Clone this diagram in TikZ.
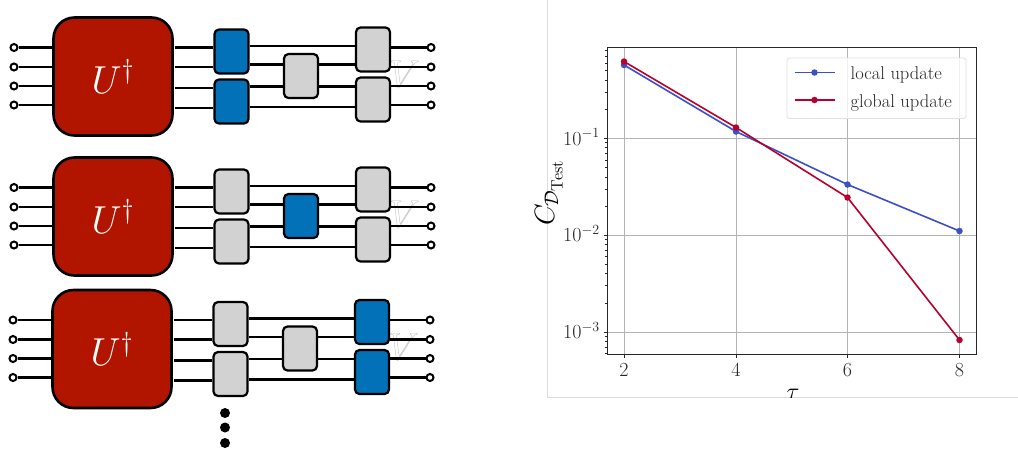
\RequirePackage{fix-cm}
\documentclass[tikz,border=0pt]{standalone}
\usepackage{amsmath}
\DeclareMathSizes{28}{28}{19.6}{16.5}
\definecolor{ured}{HTML}{B11500}
\definecolor{qblue}{HTML}{0271B8}
\definecolor{qgray}{HTML}{D2D2D2}
\definecolor{lblue}{HTML}{3B50C8}
\definecolor{lred}{HTML}{B8002E}
\definecolor{gridc}{HTML}{B4B4B4}
\definecolor{framec}{HTML}{DCDCDC}
\definecolor{axc}{HTML}{262626}
\newcommand{\outlinetext}[1]{\special{pdf:code q 1 Tr 0.35 w 0.72 G}#1\special{pdf:code Q}}
\tikzset{
 wire/.style={line width=2.2pt,black},
 port/.style={circle,draw=black,fill=white,line width=2pt,minimum size=7pt,inner sep=0pt},
 ubox/.style={draw=black,fill=ured,line width=2.6pt,rounded corners=21pt,minimum width=119pt,minimum height=118pt,inner sep=0pt,font=\fontsize{39}{39}\selectfont,text=white},
 gate/.style={draw=black,line width=2.2pt,rounded corners=4.5pt,minimum width=34pt,minimum height=44pt,inner sep=0pt},
 bgate/.style={gate,fill=qblue},
 ggate/.style={gate,fill=qgray},
 ghost/.style={font=\fontsize{39}{39}\selectfont,inner sep=0pt},
 tick/.style={line width=.8pt,axc},
 grid line/.style={line width=1pt,gridc},
 ticklab/.style={font=\fontsize{20}{20}\selectfont,text=axc,inner sep=0pt},
 series/.style={line width=1.6pt},
 dot/.style={circle,inner sep=0pt,minimum size=6.5pt},
 legtxt/.style={font=\fontsize{18.5}{18.5}\selectfont,text=axc,inner sep=0pt,anchor=base west},
 bullet/.style={circle,fill=black,inner sep=0pt,minimum size=10pt},
}
\newcommand{\circuitrow}[5]{%
\begin{scope}[shift={(#1,#2)}]
 \node[ghost] at (404.5,74) {\outlinetext{$V$}};
 \node[ubox] (u) at (113,76.5) {$U^{\dagger}$};
 \node[#3] (a1) at (231.5,51.5) {};
 \node[#3] (a2) at (231.5,101.5) {};
 \node[#4] (m) at (301,76) {};
 \node[#5] (b1) at (373,49.5) {};
 \node[#5] (b2) at (373,99.5) {};
 \foreach \i/\y in {1/47.5,2/67,3/86,4/105}{
   \node[port] (p\i) at (14,\y) {};
   \node[port] (q\i) at (431,\y) {};
   \draw[wire] (p\i) -- (53,\y);
 }
 \foreach \y in {47.5,67}{\draw[wire] (175,\y) -- (a1.west |- 0,\y);}
 \foreach \y in {88,108}{\draw[wire] (175,\y) -- (a2.west |- 0,\y);}
 \draw[wire] (a1.east |- 0,46) -- (b1.west |- 0,46);
 \draw[wire] (a1.east |- 0,64.5) -- (m.west |- 0,64.5);
 \draw[wire] (a2.east |- 0,86.5) -- (m.west |- 0,86.5);
 \draw[wire] (a2.east |- 0,107) -- (b2.west |- 0,107);
 \draw[wire] (m.east |- 0,64.5) -- (b1.west |- 0,64.5);
 \draw[wire] (m.east |- 0,86.5) -- (b2.west |- 0,86.5);
 \draw[wire] (b1.east |- 0,47.5) -- (q1);
 \draw[wire] (b1.east |- 0,67) -- (q2);
 \draw[wire] (b2.east |- 0,86) -- (q3);
 \draw[wire] (b2.east |- 0,105) -- (q4);
\end{scope}}
\begin{document}
\begin{tikzpicture}[x=1pt,y=-1pt]
\useasboundingbox (0,0) rectangle (1018,448);
\fill[white] (0,0) rectangle (1018,448);
\circuitrow{0}{0}{bgate}{ggate}{ggate}
\circuitrow{0}{140}{ggate}{bgate}{ggate}
\circuitrow{-1}{272.5}{ggate}{ggate}{bgate}
\node[bullet] (d1) at (225,413) {};
\node[bullet] (d2) at (225,427.5) {};
\node[bullet] (d3) at (225,443) {};
\draw[line width=1pt,framec] (547.5,0) -- (547.5,397.5) -- (1018,397.5);
\foreach \x in {624,736,847.5,959.5}{\draw[grid line] (\x,48) -- (\x,354);}
\foreach \y in {138.3,235,332}{\draw[grid line] (607,\y) -- (976,\y);}
\foreach \x/\t in {624/2,736/4,847.5/6,959.5/8}{
  \draw[tick] (\x,354) -- (\x,357.5);
  \node[ticklab,anchor=base] at (\x,376) {$\t$};
}
\foreach \y/\e in {138.3/1,235/2,332/3}{
  \draw[tick] (607,\y) -- (603.5,\y);
  \node[ticklab,anchor=base east] at (600,\y+6.8) {$10^{-\e}$};
}
\foreach \d in {41.3,138.3,235,332}{
 \foreach \k in {2,3,4,5,6,7,8,9}{
  \pgfmathsetmacro{\yy}{\d+97-97*log10(\k)}
  \pgfmathparse{(\yy>48 && \yy<354) ? 1 : 0}
  \ifnum\pgfmathresult=1 \draw[line width=.6pt,axc] (607,\yy) -- (605,\yy);\fi
 }}
\draw[series,lblue] (624,65) -- (736,131.5) -- (847.5,184.5) -- (959.5,231);
\foreach \x/\y in {624/65,736/131.5,847.5/184.5,959.5/231}{\node[dot,fill=lblue] at (\x,\y) {};}
\draw[series,lred] (624,61.5) -- (736,127.5) -- (847.5,197.5) -- (959.5,340);
\foreach \x/\y in {624/61.5,736/127.5,847.5/197.5,959.5/340}{\node[dot,fill=lred] at (\x,\y) {};}
\draw[line width=1pt,axc] (607,47.7) rectangle (976,354);
\draw[line width=.8pt,black!12,fill=white,fill opacity=.8,rounded corners=2.5pt] (787,58) rectangle (966,118.5);
\draw[series,lblue] (794.5,72.5) -- (835,72.5);
\node[dot,fill=lblue] at (814.5,72.5) {};
\draw[series,lred] (794.5,100) -- (835,100);
\node[dot,fill=lred] at (814.5,100) {};
\node[legtxt] at (850.5,79.5) {local update};
\node[legtxt] at (850.5,107) {global update};
\node[rotate=90,inner sep=0pt,font=\fontsize{28}{28}\selectfont,anchor=base] at (554,193) {$C_{\mathcal{D}_{\mathrm{Test}}}$};
\begin{scope}
 \clip (607,380) rectangle (976,397);
 \node[anchor=base,inner sep=0pt,font=\fontsize{24}{24}\selectfont] at (793,399) {$\tau$};
\end{scope}
\end{tikzpicture}
\end{document}
